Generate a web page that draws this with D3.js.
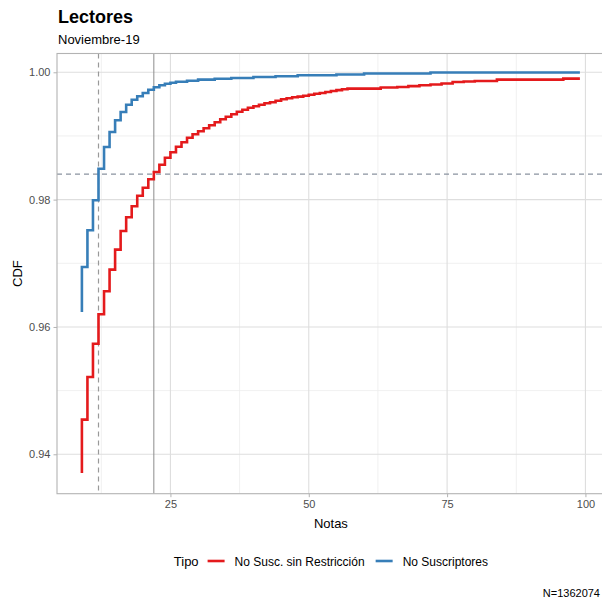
<!DOCTYPE html>
<html>
<head>
<meta charset="utf-8">
<script src="https://cdn.jsdelivr.net/npm/d3@7"></script>
<style>
  body { margin: 0; background: #fff; }
  svg { display: block; font-family: "Liberation Sans", Arial, sans-serif; }
</style>
</head>
<body>
<svg id="chart" width="602" height="600"></svg>
<script>
// ECDF steps: x of each jump and the level reached after it
const redStart = 0.93706
const redJumpX = [9, 10, 11, 12, 13, 14, 15, 16, 17, 18, 19, 20, 21, 22, 23, 24, 25, 26, 27, 28, 29, 30,
  31, 32, 33, 34, 35, 36, 37, 38, 39, 40, 41, 42, 43, 44, 45, 46, 47, 48, 49, 50, 51, 52, 53, 54, 55, 56, 57,
  63, 66, 68, 70, 72, 74, 76, 78, 80, 84, 96]
const redLevel = [0.94545, 0.95214, 0.95736, 0.96199, 0.96560, 0.96901, 0.97215, 0.97508, 0.97722, 0.97895,
  0.98060, 0.98186, 0.98319, 0.98434, 0.98547, 0.98657, 0.98743, 0.98830, 0.98901, 0.98971, 0.99026, 0.99073,
  0.99120, 0.99168, 0.99215, 0.99262, 0.99301, 0.99340, 0.99380, 0.99411, 0.99442, 0.99466, 0.99490, 0.99513,
  0.99529, 0.99552, 0.99576, 0.99592, 0.99607, 0.99618, 0.99631, 0.99647, 0.99662, 0.99675, 0.99691, 0.99706,
  0.99720, 0.99733, 0.99744, 0.99760, 0.99769, 0.99783, 0.99796, 0.99808, 0.99823, 0.99848, 0.99855, 0.99863,
  0.99885, 0.99901]

const blueStart = 0.96235
const blueJumpX = [9, 10, 11, 12, 13, 14, 15, 16, 17, 18, 19, 20, 21, 22, 23, 24, 25, 26, 28, 30, 33, 36, 40,
  44, 48, 55, 60, 72]
const blueLevel = [0.96942, 0.97518, 0.97990, 0.98484, 0.98827, 0.99062, 0.99246, 0.99376, 0.99490, 0.99568,
  0.99623, 0.99675, 0.99725, 0.99764, 0.99796, 0.99819, 0.99835, 0.99851, 0.99866, 0.99885, 0.99898, 0.99910,
  0.99925, 0.99937, 0.99953, 0.99964, 0.99980, 0.99996]

const lastX = 99
const seriesNames = ['No Susc. sin Restricción', 'No Suscriptores']
const seriesColors = ['#E41A1C', '#377EB8']

const xTicks = [25, 50, 75, 100]
const xMinor = [12.5, 37.5, 62.5, 87.5]
const yTicks = [0.94, 0.96, 0.98, 1.00]
const yMinor = [0.95, 0.97, 0.99]

const refY = 0.984    // horizontal dashed line
const refXDashed = 12 // No Suscriptores crossing
const refXSolid = 22  // No Susc. sin Restricción crossing

const title = 'Lectores'
const subtitle = 'Noviembre-19'
const caption = 'N=1362074'

// ---- layout
const svg = d3.select('#chart')
const panel = { left: 57, right: 604.8, top: 53.5, bottom: 493.7 }

const x = d3.scaleLinear().domain([4.5, 103.5]).range([panel.left, panel.right])
const y = d3.scaleLinear().domain([0.93381, 1.00295]).range([panel.bottom, panel.top])

function stepPoints(start, jx, lv) {
  var pts = [[jx[0], start]]
  jx.forEach((xv, i) => pts.push([xv, lv[i]]))
  pts.push([lastX, lv[lv.length - 1]])
  return pts
}

const series = [
  { name: seriesNames[0], color: seriesColors[0], pts: stepPoints(redStart, redJumpX, redLevel) },
  { name: seriesNames[1], color: seriesColors[1], pts: stepPoints(blueStart, blueJumpX, blueLevel) }
]

// titles
svg.append('text').attr('x', 58).attr('y', 23)
  .attr('font-size', 18).attr('font-weight', 'bold').attr('fill', '#000').text(title)
svg.append('text').attr('x', 58).attr('y', 44)
  .attr('font-size', 13).attr('fill', '#000').text(subtitle)

// grid
const grid = svg.append('g')
grid.selectAll('.xminor').data(xMinor).enter().append('line')
  .attr('x1', (d) => x(d)).attr('x2', (d) => x(d))
  .attr('y1', panel.top).attr('y2', panel.bottom)
  .attr('stroke', '#ececec').attr('stroke-width', 0.8)
grid.selectAll('.yminor').data(yMinor).enter().append('line')
  .attr('y1', (d) => y(d)).attr('y2', (d) => y(d))
  .attr('x1', panel.left).attr('x2', panel.right)
  .attr('stroke', '#ececec').attr('stroke-width', 0.8)
grid.selectAll('.xmajor').data(xTicks).enter().append('line')
  .attr('x1', (d) => x(d)).attr('x2', (d) => x(d))
  .attr('y1', panel.top).attr('y2', panel.bottom)
  .attr('stroke', '#dedede').attr('stroke-width', 1.1)
grid.selectAll('.ymajor').data(yTicks).enter().append('line')
  .attr('y1', (d) => y(d)).attr('y2', (d) => y(d))
  .attr('x1', panel.left).attr('x2', panel.right)
  .attr('stroke', '#dedede').attr('stroke-width', 1.1)

// clip
svg.append('clipPath').attr('id', 'clip').append('rect')
  .attr('x', panel.left).attr('y', panel.top)
  .attr('width', panel.right - panel.left).attr('height', panel.bottom - panel.top)

const plot = svg.append('g').attr('clip-path', 'url(#clip)')

// reference lines
plot.append('line')
  .attr('x1', x(refXDashed)).attr('x2', x(refXDashed))
  .attr('y1', panel.top).attr('y2', panel.bottom)
  .attr('stroke', '#999').attr('stroke-width', 1.2).attr('stroke-dasharray', '5,4')
plot.append('line')
  .attr('x1', x(refXSolid)).attr('x2', x(refXSolid))
  .attr('y1', panel.top).attr('y2', panel.bottom)
  .attr('stroke', '#8c8c8c').attr('stroke-width', 1)
plot.append('line')
  .attr('x1', panel.left).attr('x2', panel.right)
  .attr('y1', y(refY)).attr('y2', y(refY))
  .attr('stroke', '#8a93a0').attr('stroke-width', 1.2).attr('stroke-dasharray', '5,4')

// step lines
const line = d3.line()
  .x((d) => x(d[0]))
  .y((d) => y(d[1]))
  .curve(d3.curveStepAfter)

plot.selectAll('path.cdf')
  .data(series)
  .enter()
  .append('path')
  .attr('class', 'cdf')
  .attr('d', (d) => line(d.pts))
  .attr('fill', 'none')
  .attr('stroke', (d) => d.color)
  .attr('stroke-width', 2.6)
  .attr('stroke-linejoin', 'miter')

// panel border
svg.append('rect')
  .attr('x', panel.left).attr('y', panel.top)
  .attr('width', panel.right - panel.left).attr('height', panel.bottom - panel.top)
  .attr('fill', 'none').attr('stroke', '#b3b3b3').attr('stroke-width', 1.1)

// axes
const xAxis = svg.append('g')
  .attr('transform', `translate(0,${panel.bottom})`)
  .call(d3.axisBottom(x).tickValues(xTicks).tickFormat(d3.format('d')).tickSize(3.5).tickPadding(3))
const yAxis = svg.append('g')
  .attr('transform', `translate(${panel.left},0)`)
  .call(d3.axisLeft(y).tickValues(yTicks).tickFormat(d3.format('.2f')).tickSize(3.5).tickPadding(3))

;[xAxis, yAxis].forEach((a) => {
  a.select('.domain').remove()
  a.selectAll('.tick line').attr('stroke', '#b3b3b3')
  a.selectAll('.tick text').attr('fill', '#4d4d4d').attr('font-size', 11)
    .attr('font-family', '"Liberation Sans", Arial, sans-serif')
})

// axis titles
const cx = (panel.left + panel.right) / 2
svg.append('text').attr('x', cx).attr('y', 528).attr('text-anchor', 'middle')
  .attr('font-size', 13).attr('fill', '#000').text('Notas')
svg.append('text')
  .attr('transform', `translate(22,${(panel.top + panel.bottom) / 2}) rotate(-90)`)
  .attr('text-anchor', 'middle').attr('font-size', 13).attr('fill', '#000').text('CDF')

// legend
const legend = svg.append('g')
const legY = 561
const tipo = legend.append('text').attr('y', legY + 5).attr('font-size', 13).attr('fill', '#000').text('Tipo')
var cur = tipo.node().getComputedTextLength() + 9
series.forEach((s) => {
  legend.append('line')
    .attr('x1', cur).attr('x2', cur + 17)
    .attr('y1', legY).attr('y2', legY)
    .attr('stroke', s.color).attr('stroke-width', 2.6)
  cur += 17 + 10
  const t = legend.append('text').attr('x', cur).attr('y', legY + 4.5)
    .attr('font-size', 12).attr('fill', '#000').text(s.name)
  cur += t.node().getComputedTextLength() + 11
})
const legW = cur - 11
legend.attr('transform', `translate(${cx - legW / 2},0)`)

// caption
svg.append('text').attr('x', 600).attr('y', 597).attr('text-anchor', 'end')
  .attr('font-size', 11).attr('fill', '#000').text(caption)
</script>
</body>
</html>
